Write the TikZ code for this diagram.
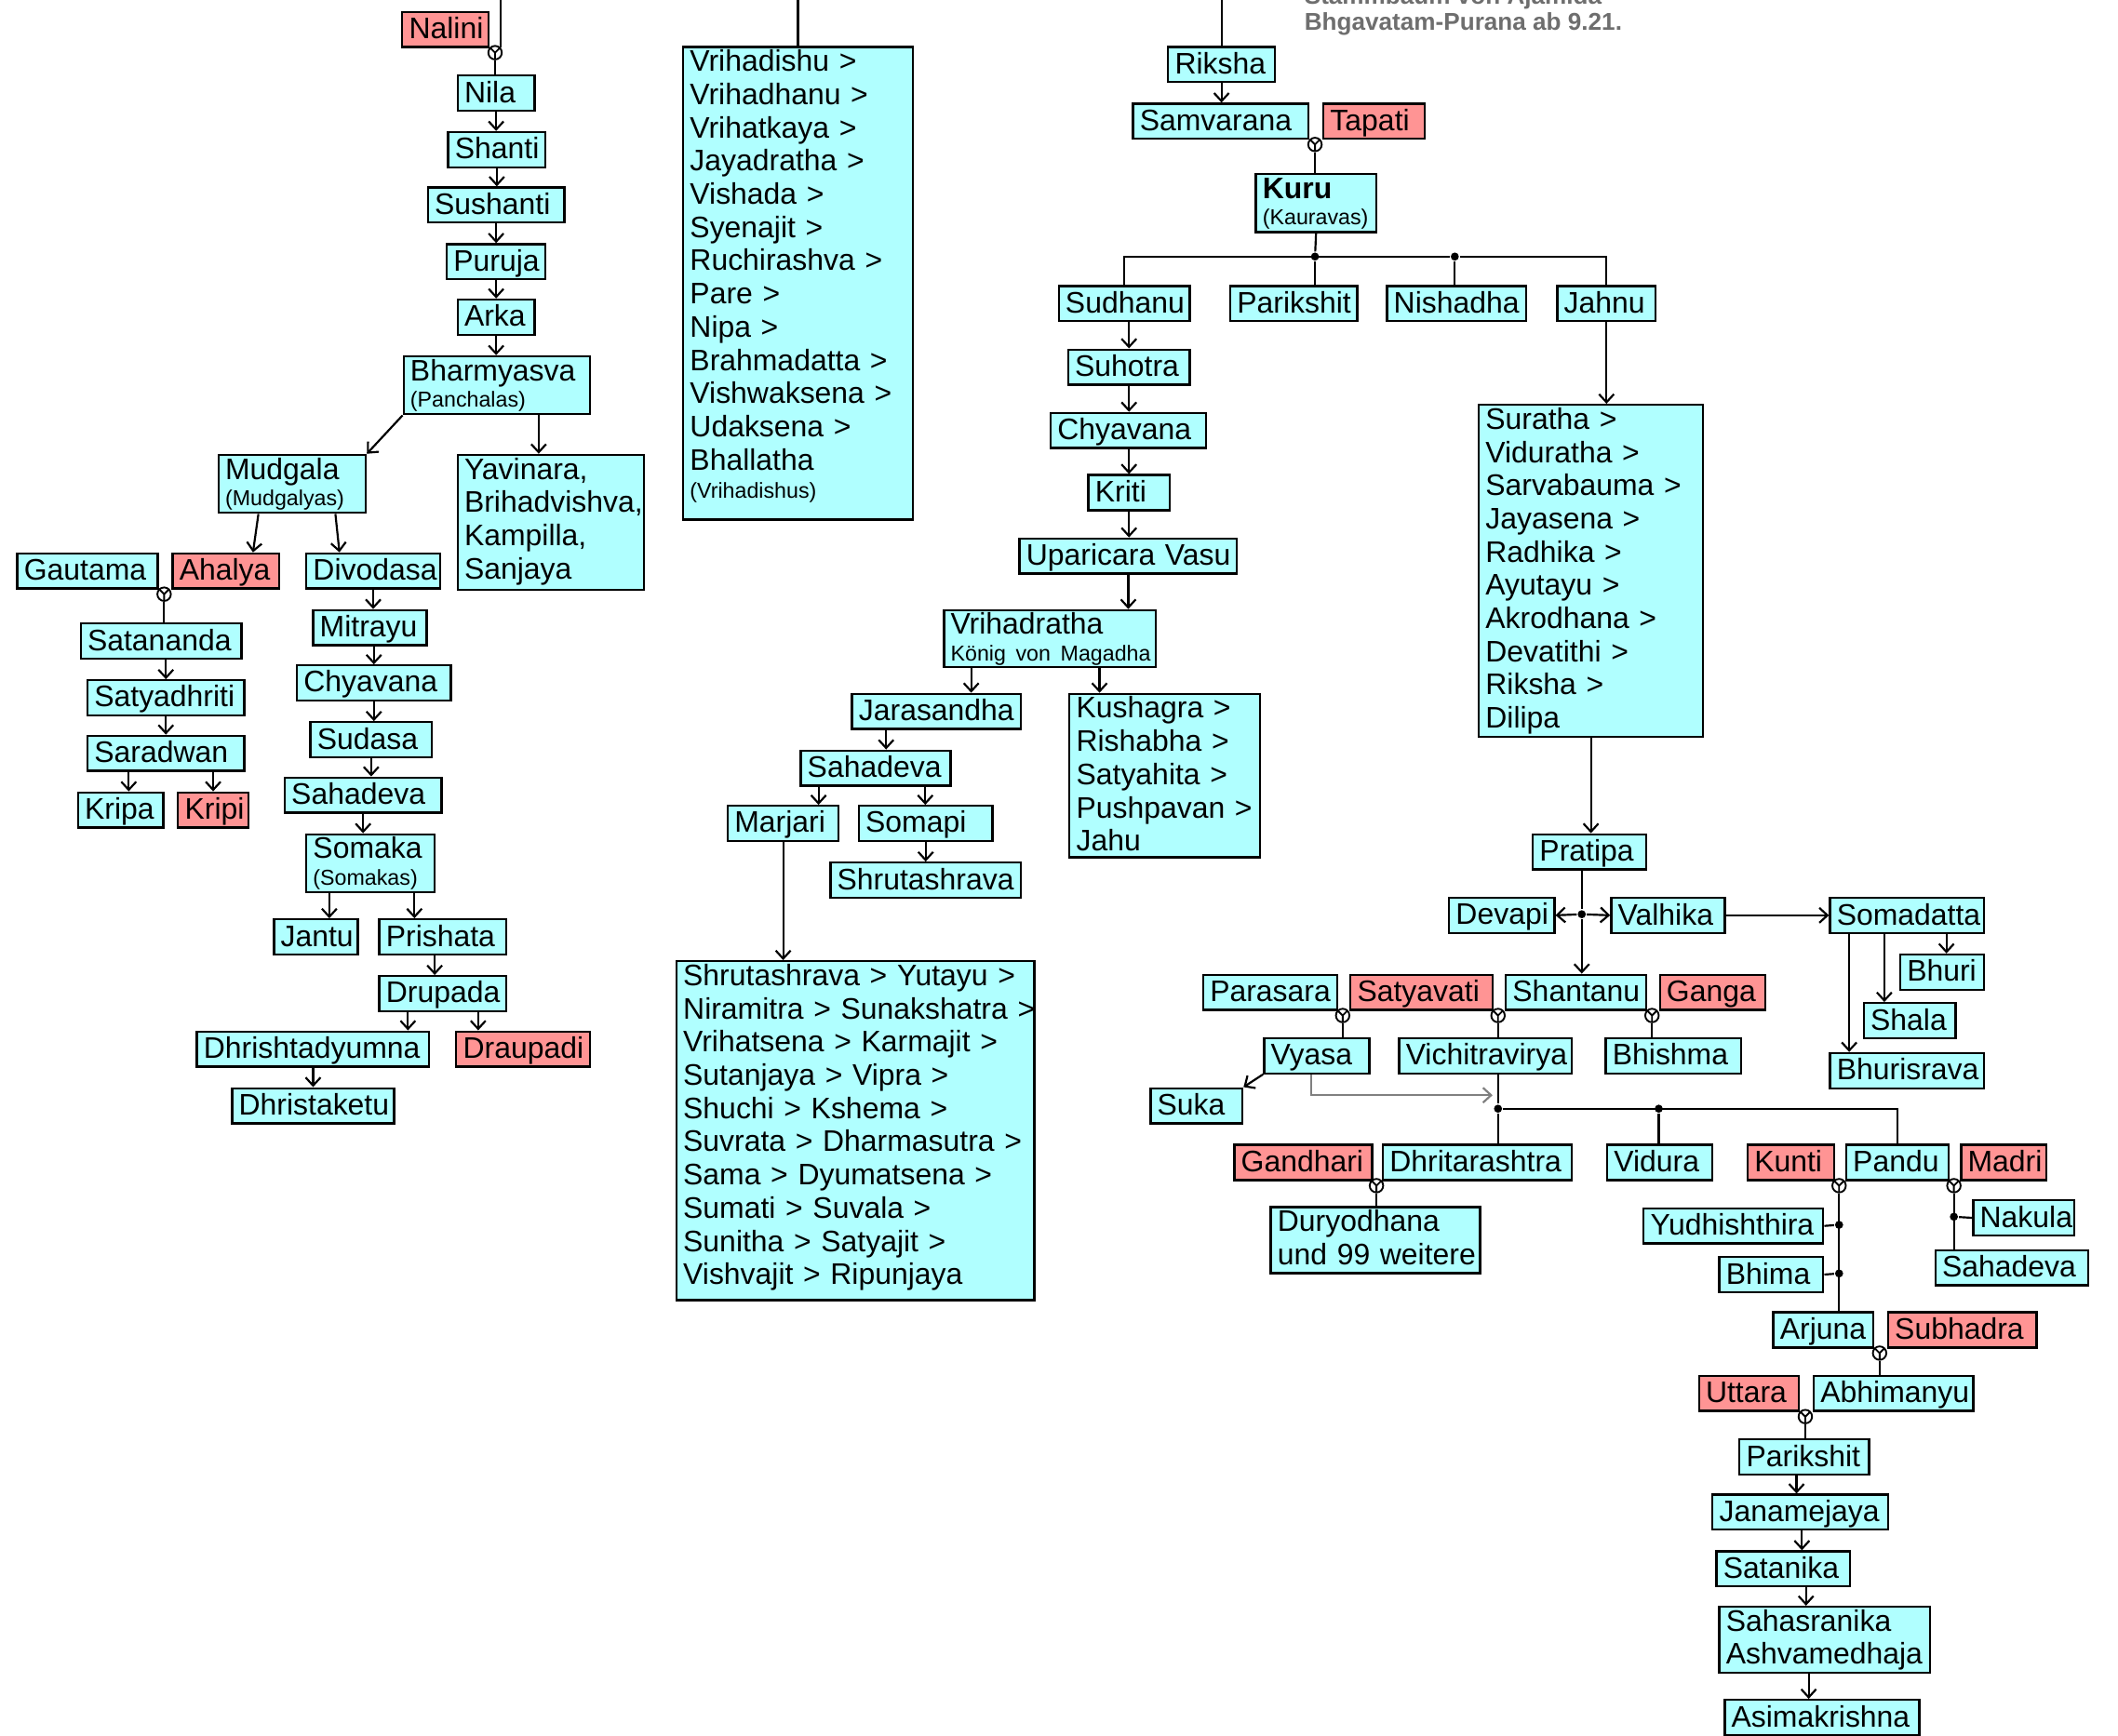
\documentclass[tikz,border=0pt]{standalone}
\usepackage{fontspec}
\setmainfont{Liberation Sans}
\usepackage{tikz}
\usetikzlibrary{positioning,arrows.meta}

\definecolor{manfill}{RGB}{176,255,255}
\definecolor{womanfill}{RGB}{255,148,148}
\definecolor{titlegray}{RGB}{110,110,110}
\newcommand{\tribe}[1]{{\fontsize{16}{19}\selectfont #1}}

\begin{document}
\begin{tikzpicture}[
		x=1pt, y=-1pt,
		line width=1.5pt,
		>={Straight Barb[length=6pt,width=11pt]},
		person/.style={rectangle, draw=black, fill=manfill, line width=1.6pt, anchor=north west, inner xsep=5pt, inner ysep=0pt, align=left, minimum height=26pt, font={\fontsize{22}{24.6}\selectfont}, execute at begin node={\hyphenpenalty10000\exhyphenpenalty10000\relax\rule[-4pt]{0pt}{22pt}}},
		woman/.style={person, fill=womanfill},
		wd/.code={\pgfmathsetlengthmacro\boxw{#1-10}\tikzset{text width/.expanded=\boxw}},
		ht/.code={\pgfmathsetlengthmacro\boxd{#1-22}\tikzset{text depth/.expanded=\boxd}},
		wed/.style={circle, draw, minimum size=10pt, inner sep=0pt, line width=1.3pt, path picture={\draw[line width=1.3pt] (path picture bounding box.north west) -- (path picture bounding box.center) -- (path picture bounding box.north east) (path picture bounding box.center) -- (path picture bounding box.south);}},
		jn/.style={circle, fill, inner sep=0pt, minimum size=6pt},
		title/.style={anchor=south west, inner sep=0pt, align=left, text=titlegray, font=\bfseries\fontsize{18}{19}\selectfont},
		]
		\useasboundingbox (0,0) rectangle (1568,1285);
		\clip (0,0) rectangle (1568,1285);
		\coordinate (top1) at (0,-10);

		%Title
		\node[title] (title) at (965,27) {Stammbaum von Ajamida\\Bhgavatam-Purana ab 9.21.};

		%Nila Branch
		\node[woman, wd=64]	(nalini)	at (297,8)	{Nalini};
		\node[wed]	(w1)	at (366.5,39)	{};
		\node[person, wd=57]	(nila)	at (338,55)	{Nila};
		\node[person, wd=72]	(shanti)	at (331,97)	{Shanti};
		\node[person, wd=101]	(sushanti)	at (316,138)	{Sushanti};
		\node[person, wd=73]	(puruja)	at (330,180)	{Puruja};
		\node[person, wd=57]	(arka)	at (338,221)	{Arka};
		\node[person, wd=138, ht=47]	(bharmyasva)	at (298,263)	{Bharmyasva\\[-5pt]\tribe{(Panchalas)}};
		\node[person, wd=109, ht=47]	(mudgala)	at (161,336)	{Mudgala\\[-5pt]\tribe{(Mudgalyas)}};
		\node[person, wd=138, ht=104]	(yavinara)	at (338,336)	{Yavinara,\\Brihadvishva,\\Kampilla,\\Sanjaya};
		\draw (w1.north east |- top1) -- (w1.north east);
		\draw (w1.south) -- (w1.south |- nila.north);
		\draw[->] (nila.south) -- (nila.south |- shanti.north);
		\draw[->] (shanti.south) -- (shanti.south |- sushanti.north);
		\draw[->] (sushanti.south) -- (sushanti.south |- puruja.north);
		\draw[->] (puruja.south) -- (puruja.south |- arka.north);
		\draw[->] (arka.south) -- (arka.south |- bharmyasva.north);
		\draw[->] (bharmyasva.south west) -- (mudgala.north east);
		\draw[->] ([xshift=-9pt]yavinara.north |- bharmyasva.south) -- ([xshift=-9pt]yavinara.north);

		%Gautama
		\node[person, wd=104]	(gautama)	at (12,409)	{Gautama};
		\node[woman, wd=79]	(ahalya)	at (127,409)	{Ahalya};
		\node[wed]	(w2)	at (121.5,440)	{};
		\node[person, wd=119]	(satananda)	at (59,461)	{Satananda};
		\node[person, wd=116]	(satyadhriti)	at (64,503)	{Satyadhriti};
		\node[person, wd=116]	(saradwan)	at (64,544)	{Saradwan};
		\node[person, wd=63]	(kripa)	at (57,586)	{Kripa};
		\node[woman, wd=52]	(kripi)	at (131,586)	{Kripi};
		\draw[->] ([xshift=-25pt]mudgala.south) -- ([xshift=20pt]ahalya.north);
		\draw (w2.south) -- (w2.south |- satananda.north);
		\draw[->] (satyadhriti.north |- satananda.south) -- (satyadhriti.north);
		\draw[->] (saradwan.north |- satyadhriti.south) -- (saradwan.north);
		\draw[->] ([xshift=6pt]kripa.north |- saradwan.south) -- ([xshift=6pt]kripa.north);
		\draw[->] (kripi.north |- saradwan.south) -- (kripi.north);

		%Divodasa
		\node[person, wd=99]	(divodasa)	at (226,409)	{Divodasa};
		\node[person, wd=84]	(mitrayu)	at (231,451)	{Mitrayu};
		\node[person, wd=114]	(chyavana)	at (219,492)	{Chyavana};
		\node[person, wd=90]	(sudasa)	at (229,534)	{Sudasa};
		\node[person, wd=116]	(sahadeva)	at (210,575)	{Sahadeva};
		\node[person, wd=95, ht=47]	(somaka)	at (226,617)	{Somaka\\[-5pt]\tribe{(Somakas)}};
		\node[person, wd=62]	(jantu)	at (202,680)	{Jantu};
		\node[person, wd=94]	(prishata)	at (280,680)	{Prishata};
		\node[person, wd=94]	(drupada)	at (280,722)	{Drupada};
		\node[person, wd=172]	(dhrishtadyumna)	at (145,763)	{Dhrishtadyumna};
		\node[woman, wd=99]	(draupadi)	at (337,763)	{Draupadi};
		\node[person, wd=120]	(dhristaketu)	at (171,805)	{Dhristaketu};
		\draw[->] ([xshift=32pt]mudgala.south) -- ([xshift=-25pt]divodasa.north);
		\draw[->] (divodasa.south) -- (divodasa.south |- mitrayu.north);
		\draw[->] (chyavana.north |- mitrayu.south) -- (chyavana.north);
		\draw[->] (chyavana.south) -- (chyavana.south |- sudasa.north);
		\draw[->] (sudasa.south) -- (sudasa.south |- sahadeva.north);
		\draw[->] (sahadeva.south) -- (sahadeva.south |- somaka.north);
		\draw[->] ([xshift=10pt]jantu.north |- somaka.south) -- ([xshift=10pt]jantu.north);
		\draw[->] ([xshift=-21pt]prishata.north |- somaka.south) -- ([xshift=-21pt]prishata.north);
		\draw[->] ([xshift=-6pt]prishata.south) -- ([xshift=-6pt]prishata.south |- drupada.north);
		\draw[->] ([xshift=22pt]drupada.south west) -- ([xshift=22pt]drupada.south west |- dhrishtadyumna.north);
		\draw[->] ([xshift=74pt]drupada.south west) -- ([xshift=74pt]drupada.south west |- draupadi.north);
		\draw[->] (dhrishtadyumna.south) -- (dhrishtadyumna.south |- dhristaketu.north);

		%Vrihadishu
		\node[person, wd=170, ht=354]	(vrihadishu)	at (505,34)	{Vrihadishu >\\Vrihadhanu >\\Vrihatkaya >\\Jayadratha >\\Vishada >\\Syenajit >\\Ruchirashva >\\Pare >\\Nipa >\\Brahmadatta >\\Vishwaksena >\\Udaksena >\\Bhallatha\\[-4pt]\tribe{(Vrihadishus)}};
		\draw (vrihadishu.north |- top1) -- (vrihadishu.north);

		%Riksha and Kuru
		\node[person, wd=79]	(riksha)	at (864,34)	{Riksha};
		\node[person, wd=130]	(samvarana)	at (838,76)	{Samvarana};
		\node[woman, wd=75]	(tapati)	at (979,76)	{Tapati};
		\node[wed]	(w3)	at (973.5,107)	{};
		\node[person, wd=89, ht=47]	(kuru)	at (929,128)	{\textbf{Kuru}\\[-5pt]\tribe{(Kauravas)}};
		\node[jn]	(kj1)	at (973.5,190)	{};
		\node[jn]	(kj2)	at (1077,190)	{};
		\node[person, wd=97]	(sudhanu)	at (783,211)	{Sudhanu};
		\node[person, wd=94]	(parikshit)	at (910,211)	{Parikshit};
		\node[person, wd=103]	(nishadha)	at (1026,211)	{Nishadha};
		\node[person, wd=73]	(jahnu)	at (1152,211)	{Jahnu};
		\draw (riksha.north |- top1) -- (riksha.north);
		\draw[->] (riksha.south) -- (riksha.south |- samvarana.north);
		\draw (w3.south) -- (w3.south |- kuru.north);
		\draw (kuru.south) -- (kj1);
		\draw (sudhanu.north) |- (kj2) -| (jahnu.north);
		\draw (kj1) -- (kj1 |- parikshit.north);
		\draw (kj2) -- (kj2 |- nishadha.north);

		%Sudhanu Branch
		\node[person, wd=90]	(suhotra)	at (790,258)	{Suhotra};
		\node[person, wd=115]	(chyavanab)	at (777,305)	{Chyavana};
		\node[person, wd=60]	(kriti)	at (805,351)	{Kriti};
		\node[person, wd=161]	(uparicara)	at (754,398)	{Uparicara~Vasu};
		\node[person, wd=157, ht=46]	(vrihadratha)	at (698,451)	{Vrihadratha\\[-5pt]\tribe{König~von~Magadha}};
		\node[person, wd=125]	(jarasandha)	at (630,513)	{Jarasandha};
		\node[person, wd=141, ht=125]	(kushagra)	at (791,513)	{Kushagra >\\Rishabha >\\Satyahita >\\Pushpavan >\\Jahu};
		\node[person, wd=111]	(sahadevab)	at (592,555)	{Sahadeva};
		\node[person, wd=82]	(marjari)	at (538,596)	{Marjari};
		\node[person, wd=99]	(somapi)	at (635,596)	{Somapi};
		\node[person, wd=141]	(shrutashrava)	at (614,638)	{Shrutashrava};
		\node[person, wd=265, ht=255]	(magadha)	at (500,711)	{Shrutashrava~>~Yutayu~>\\Niramitra~>~Sunakshatra~>\\Vrihatsena~>~Karmajit~>\\Sutanjaya~>~Vipra~>\\Shuchi~>~Kshema~>\\Suvrata~>~Dharmasutra~>\\Sama~>~Dyumatsena~>\\Sumati~>~Suvala~>\\Sunitha~>~Satyajit~>\\Vishvajit~>~Ripunjaya};
		\draw[->] (suhotra.north |- sudhanu.south) -- (suhotra.north);
		\draw[->] (suhotra.south) -- (suhotra.south |- chyavanab.north);
		\draw[->] (kriti.north |- chyavanab.south) -- (kriti.north);
		\draw[->] (kriti.south) -- (kriti.south |- uparicara.north);
		\draw[->] (uparicara.south) -- (uparicara.south |- vrihadratha.north);
		\draw[->] ([xshift=21pt]vrihadratha.south west) -- ([xshift=21pt]vrihadratha.south west |- jarasandha.north);
		\draw[->] ([xshift=23pt]kushagra.north west |- vrihadratha.south) -- ([xshift=23pt]kushagra.north west);
		\draw[->] ([xshift=26pt]jarasandha.south west) -- ([xshift=26pt]jarasandha.south west |- sahadevab.north);
		\draw[->] ([xshift=14pt]sahadevab.south west) -- ([xshift=14pt]sahadevab.south west |- marjari.north);
		\draw[->] ([xshift=93pt]sahadevab.south west) -- ([xshift=93pt]sahadevab.south west |- somapi.north);
		\draw[->] (shrutashrava.north |- somapi.south) -- (shrutashrava.north);
		\draw[->] (marjari.south) -- (marjari.south |- magadha.north);

		%Jahnu Branch
		\node[person, wd=166, ht=250]	(suratha)	at (1094,299)	{Suratha >\\Viduratha >\\Sarvabauma >\\Jayasena >\\Radhika >\\Ayutayu >\\Akrodhana >\\Devatithi >\\Riksha >\\Dilipa};
		\node[person, wd=84]	(pratipa)	at (1134,617)	{Pratipa};
		\node[person, wd=78]	(devapi)	at (1072,664)	{Devapi};
		\node[person, wd=84]	(valhika)	at (1192,664)	{Valhika};
		\node[jn]	(pj)	at (1171,677)	{};
		\node[person, wd=114]	(somadatta)	at (1354,664)	{Somadatta};
		\node[person, wd=62]	(bhuri)	at (1406,706)	{Bhuri};
		\node[person, wd=68]	(shala)	at (1379,742)	{Shala};
		\node[person, wd=114]	(bhurisrava)	at (1354,779)	{Bhurisrava};
		\draw[->] (jahnu.south) -- (jahnu.south |- suratha.north);
		\draw[->] (suratha.south) -- (suratha.south |- pratipa.north);
		\draw (pj |- pratipa.south) -- (pj);
		\draw[->] (pj) -- (devapi.east);
		\draw[->] (pj) -- (valhika.west);
		\draw[->] (valhika.east) -- (somadatta.west);
		\draw[->] ([xshift=87pt]somadatta.south west) -- ([xshift=87pt]somadatta.south west |- bhuri.north);
		\draw[->] ([xshift=41pt]somadatta.south west) -- ([xshift=41pt]somadatta.south west |- shala.north);
		\draw[->] ([xshift=15pt]somadatta.south west) -- ([xshift=15pt]somadatta.south west |- bhurisrava.north);

		%Shantanu
		\node[person, wd=99]	(parasara)	at (890,721)	{Parasara};
		\node[woman, wd=105]	(satyavati)	at (999,721)	{Satyavati};
		\node[person, wd=104]	(shantanu)	at (1114,721)	{Shantanu};
		\node[woman, wd=78]	(ganga)	at (1228,721)	{Ganga};
		\node[wed]	(w4)	at (994,752)	{};
		\node[wed]	(w5)	at (1109,752)	{};
		\node[wed]	(w6)	at (1223,752)	{};
		\node[person, wd=78]	(vyasa)	at (935,768)	{Vyasa};
		\node[person, wd=128]	(vichitravirya)	at (1035,768)	{Vichitravirya};
		\node[person, wd=100]	(bhishma)	at (1188,768)	{Bhishma};
		\node[person, wd=68]	(suka)	at (851,805)	{Suka};
		\coordinate (vyasa_end) at (1105,811);
		\draw[->] (pj) -- (pj |- shantanu.north);
		\draw (w4.south) -- (w4.south |- vyasa.north);
		\draw (w5.south) -- (w5.south |- vichitravirya.north);
		\draw (w6.south) -- (w6.south |- bhishma.north);
		\draw[->] (vyasa.south west) -- (suka.north east);
		\draw[->, gray] ([xshift=-4pt]vyasa.south) |- (vyasa_end);

		%Vichitravirya
		\node[jn]	(vj)	at (1109,821)	{};
		\node[jn]	(vd)	at (1228,821)	{};
		\node[woman, wd=102]	(gandhari)	at (913,847)	{Gandhari};
		\node[person, wd=140]	(dhritarashtra)	at (1023,847)	{Dhritarashtra};
		\node[person, wd=78]	(vidura)	at (1189,847)	{Vidura};
		\node[woman, wd=64]	(kunti)	at (1293,847)	{Kunti};
		\node[person, wd=76]	(pandu)	at (1366,847)	{Pandu};
		\node[woman, wd=63]	(madri)	at (1451,847)	{Madri};
		\node[wed]	(w7)	at (1019,878)	{};
		\node[wed]	(w8)	at (1361.5,878)	{};
		\node[wed]	(w9)	at (1446.5,878)	{};
		\node[person, wd=155, ht=53]	(duryodhana)	at (940,893)	{Duryodhana\\und~99~weitere};
		\draw (vj |- vichitravirya.south) -- (vj) -- (vj |- dhritarashtra.north);
		\draw (vj) -| (pandu.north);
		\draw (vd) -- (vd |- vidura.north);
		\draw (w7.south) -- (w7.south |- duryodhana.north);

		%Pandavas
		\node[person, wd=133]	(yudhishthira)	at (1216,894)	{Yudhishthira};
		\node[person, wd=77]	(bhima)	at (1272,930)	{Bhima};
		\node[person, wd=75]	(nakula)	at (1460,888)	{Nakula};
		\node[person, wd=113]	(sahadevac)	at (1432,925)	{Sahadeva};
		\node[jn]	(pj1)	at (1361.5,907)	{};
		\node[jn]	(pj2)	at (1361.5,943)	{};
		\node[jn]	(mj)	at (1446.5,901)	{};
		\node[person, wd=74]	(arjuna)	at (1312,971)	{Arjuna};
		\node[woman, wd=110]	(subhadra)	at (1397,971)	{Subhadra};
		\node[wed]	(w10)	at (1391.5,1002)	{};
		\node[woman, wd=74]	(uttara)	at (1257,1018)	{Uttara};
		\node[person, wd=118]	(abhimanyu)	at (1342,1018)	{Abhimanyu};
		\node[wed]	(w11)	at (1336.5,1049)	{};
		\draw (w8.south) -- (w8.south |- arjuna.north);
		\draw (pj1) -- (yudhishthira.east);
		\draw (pj2) -- (bhima.east);
		\draw (w9.south) -- (w9.south |- sahadevac.north);
		\draw (mj) -- (nakula.west);
		\draw (w10.south) -- (w10.south |- abhimanyu.north);

		%Parikshit Line
		\node[person, wd=96]	(parikshitb)	at (1287,1065)	{Parikshit};
		\node[person, wd=130]	(janamejaya)	at (1267,1106)	{Janamejaya};
		\node[person, wd=99]	(satanika)	at (1270,1148)	{Satanika};
		\node[person, wd=156, ht=53]	(sahasranika)	at (1272,1189)	{Sahasranika\\Ashvamedhaja};
		\node[person, wd=144]	(asimakrishna)	at (1276,1258)	{Asimakrishna};
		\draw (w11.south) -- (w11.south |- parikshitb.north);
		\draw[->] ([xshift=43pt]parikshitb.south west) -- ([xshift=43pt]parikshitb.south west |- janamejaya.north);
		\draw[->] ([xshift=67pt]janamejaya.south west) -- ([xshift=67pt]janamejaya.south west |- satanika.north);
		\draw[->] ([xshift=67pt]satanika.south west) -- ([xshift=67pt]satanika.south west |- sahasranika.north);
		\draw[->] ([xshift=67pt]sahasranika.south west) -- ([xshift=67pt]sahasranika.south west |- asimakrishna.north);

	\end{tikzpicture}
\end{document}
